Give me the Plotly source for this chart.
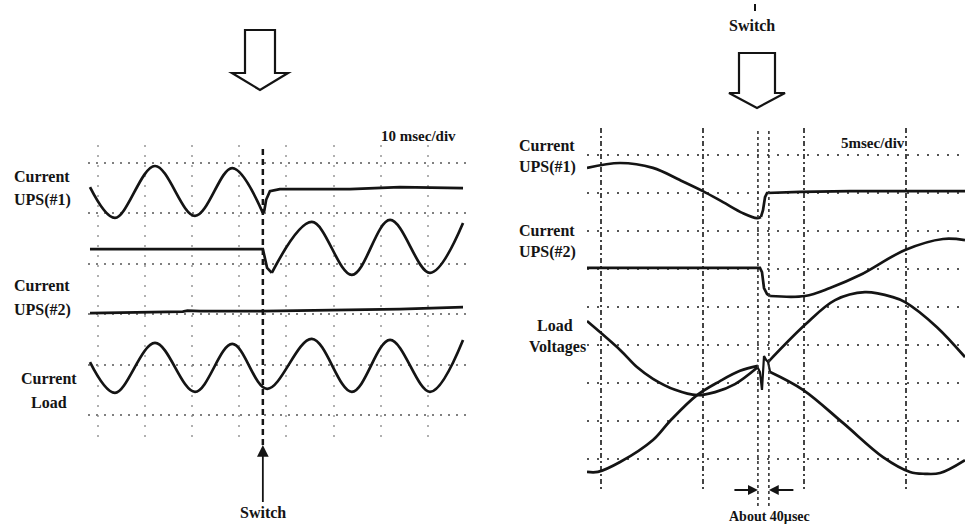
import plotly.graph_objects as go

W, H = 965, 527

# ---------------- data: left record (10 msec/div), time in ms, amplitude in divisions ----------------
L_SWITCH_T = 35.0
l_ups1_pre_t = [-1.7, 3.6, 12.1, 20.6, 28.5, 35.0]
l_ups1_pre_v = [4.52, 3.91, 4.94, 3.95, 4.90, 4.01]
l_ups1_post_t = [35.0, 35.3, 35.7, 36.5, 38.6, 53.5, 64.1, 77.5]
l_ups1_post_v = [4.01, 4.05, 4.27, 4.44, 4.48, 4.48, 4.52, 4.50]
l_ups2_pre_t = [-1.7, 35.0, 35.3, 35.9, 36.9]
l_ups2_pre_v = [3.29, 3.29, 3.17, 2.92, 2.82]
l_ups2_post_t = [36.9, 45.4, 53.9, 62.0, 70.5, 77.5]
l_ups2_post_v = [2.82, 3.83, 2.78, 3.87, 2.82, 3.81]
l_ref_t = [-1.7, 11.0, 18.0, 19.0, 21.7, 35.0, 49.3, 64.1, 77.5]
l_ref_v = [2.02, 2.04, 2.05, 2.07, 2.06, 2.06, 2.08, 2.10, 2.14]
l_load_t = [-1.7, 3.6, 12.1, 20.6, 28.5, 35.9, 45.4, 53.9, 62.0, 70.5, 77.5]
l_load_v = [1.05, 0.44, 1.43, 0.46, 1.41, 0.52, 1.51, 0.46, 1.49, 0.46, 1.49]
l_grid_t = [0, 10, 20, 30, 40, 50, 60, 70]
l_grid_v = [0, 1, 2, 3, 4, 5]

# ---------------- data: right record (5 msec/div) ----------------
R_MARK_T = [7.73, 8.27]
r_ups1_pre_t = [-0.69, 0.94, 2.56, 3.89, 5.02, 6.01, 6.99, 7.68, 7.88]
r_ups1_pre_v = [7.66, 7.79, 7.66, 7.34, 7.05, 6.76, 6.47, 6.34, 6.37]
r_ups1_post_t = [7.88, 7.98, 8.08, 8.18, 9.80, 12.27, 14.73, 17.93]
r_ups1_post_v = [6.37, 6.55, 6.89, 7.00, 7.03, 7.05, 7.05, 7.05]
r_ups2_pre_t = [-0.69, 7.83, 7.93, 8.03, 8.18, 8.33]
r_ups2_pre_v = [5.03, 5.03, 4.92, 4.50, 4.34, 4.29]
r_ups2_post_t = [8.33, 10.05, 11.28, 12.76, 14.98, 16.85, 17.93]
r_ups2_post_v = [4.29, 4.29, 4.50, 4.84, 5.50, 5.79, 5.76]
r_va_pre_t = [-0.69, 0.94, 1.77, 2.56, 3.65, 4.73, 5.62, 6.60, 7.73]
r_va_pre_v = [3.63, 2.87, 2.42, 2.11, 1.82, 1.68, 1.76, 1.97, 2.42]
r_va_post_t = [8.23, 10.05, 11.53, 13.00, 14.38, 14.98, 16.55, 17.93]
r_va_post_v = [2.55, 3.53, 4.18, 4.39, 4.26, 4.13, 3.47, 2.68]
r_vb_pre_t = [-0.69, -0.15, 0.94, 2.56, 3.40, 4.73, 5.86, 6.85, 7.73]
r_vb_pre_v = [-0.34, -0.34, -0.08, 0.50, 1.00, 1.68, 2.05, 2.32, 2.45]
r_vb_post_t = [8.33, 9.95, 11.92, 13.89, 15.22, 15.96, 16.70, 17.93]
r_vb_post_v = [2.29, 1.82, 0.95, 0.05, -0.34, -0.39, -0.37, -0.03]
r_spike_t = [7.68, 7.83, 7.93, 7.98, 8.03, 8.13, 8.23, 8.33]
r_spike_v = [2.45, 2.29, 1.82, 2.29, 2.71, 2.61, 2.55, 2.29]
r_grid_t = [0, 5, 10, 15]
r_grid_v = [0, 1, 2, 3, 4, 5, 6, 7, 8]

# ---------------- layout helpers (pixel -> paper) ----------------
def px(x):
    return x / W

def py(y):
    return 1 - y / H

# left scale: t=0 at x=98px, 4.71 px/ms ; v=0 at y=415px, 50.4 px/div
L_DOM = (88, 468, 145, 440)
L_XR = [(L_DOM[0] - 98) / 4.71, (L_DOM[1] - 98) / 4.71]
L_YR = [(415 - L_DOM[3]) / 50.4, (415 - L_DOM[2]) / 50.4]
# right scale: t=0 at x=601px, 20.3 px/ms ; v=0 at y=459px, 38 px/div
R_DOM = (587, 965, 128, 490)
R_XR = [(R_DOM[0] - 601) / 20.3, (R_DOM[1] - 601) / 20.3]
R_YR = [(459 - R_DOM[3]) / 38.0, (459 - R_DOM[2]) / 38.0]

INK = "#141414"
FONT = "Liberation Serif"

fig = go.Figure()

def add(t, v, ax, spline=True, width=2.7):
    fig.add_trace(go.Scatter(
        x=t, y=v, mode="lines", xaxis="x" if ax == 1 else "x2", yaxis="y" if ax == 1 else "y2",
        line=dict(color=INK, width=width, shape="spline" if spline else "linear", smoothing=1.0),
        hoverinfo="skip", showlegend=False))

add(l_ups1_pre_t, l_ups1_pre_v, 1)
add(l_ups1_post_t, l_ups1_post_v, 1, spline=False)
add(l_ups2_pre_t, l_ups2_pre_v, 1, spline=False)
add(l_ups2_post_t, l_ups2_post_v, 1)
add(l_ref_t, l_ref_v, 1, spline=False)
add(l_load_t, l_load_v, 1)

add(r_ups1_pre_t, r_ups1_pre_v, 2)
add(r_ups1_post_t, r_ups1_post_v, 2, spline=False)
add(r_ups2_pre_t, r_ups2_pre_v, 2, spline=False)
add(r_ups2_post_t, r_ups2_post_v, 2)
add(r_va_pre_t, r_va_pre_v, 2)
add(r_va_post_t, r_va_post_v, 2)
add(r_vb_pre_t, r_vb_pre_v, 2)
add(r_vb_post_t, r_vb_post_v, 2)
add(r_spike_t, r_spike_v, 2, spline=False, width=2.2)

axcommon = dict(showticklabels=False, zeroline=False, showline=False, ticks="", fixedrange=True)
fig.update_layout(
    width=W, height=H, margin=dict(l=0, r=0, t=0, b=0),
    paper_bgcolor="white", plot_bgcolor="rgba(0,0,0,0)", showlegend=False,
    xaxis=dict(domain=[px(L_DOM[0]), px(L_DOM[1])], range=L_XR, tickvals=l_grid_t,
               showgrid=True, gridcolor="#b0b0b0", gridwidth=1.5, griddash="2px,8px", **axcommon),
    yaxis=dict(domain=[py(L_DOM[3]), py(L_DOM[2])], range=L_YR, tickvals=l_grid_v,
               showgrid=True, gridcolor="#808080", gridwidth=1.8, griddash="2px,6px", **axcommon),
    xaxis2=dict(domain=[px(R_DOM[0]), px(R_DOM[1])], range=R_XR, tickvals=r_grid_t, anchor="y2",
                showgrid=True, gridcolor="#444444", gridwidth=1.8, griddash="5px,3px,2px,3px", **axcommon),
    yaxis2=dict(domain=[py(R_DOM[3]), py(R_DOM[2])], range=R_YR, tickvals=r_grid_v, anchor="x2",
                showgrid=True, gridcolor="#555555", gridwidth=2.2, griddash="2px,8px", **axcommon),
)

shapes = []
# left switch line
shapes.append(dict(type="line", xref="x", yref="paper", x0=L_SWITCH_T, x1=L_SWITCH_T,
                   y0=py(445), y1=py(148), line=dict(color=INK, width=2.5, dash="6px,4px")))
# right 40 usec marker lines
for tm in R_MARK_T:
    shapes.append(dict(type="line", xref="x2", yref="paper", x0=tm, x1=tm,
                       y0=py(506), y1=py(128), line=dict(color="#333333", width=1.6, dash="3px,3px")))

def hollow_arrow(cx, top, stem_half, base, head_half, tip):
    pts = [(cx - stem_half, top), (cx + stem_half, top), (cx + stem_half, base), (cx + head_half, base),
           (cx, tip), (cx - head_half, base), (cx - stem_half, base)]
    d = "M " + " L ".join(f"{px(x):.5f},{py(y):.5f}" for x, y in pts) + " Z"
    return dict(type="path", xref="paper", yref="paper", path=d,
                line=dict(color=INK, width=2.2), fillcolor="white")

shapes.append(hollow_arrow(260, 30, 15, 73, 28, 90))
shapes.append(hollow_arrow(757, 53, 18, 93, 28, 108))
# small remnant tick above the right "Switch"
shapes.append(dict(type="line", xref="paper", yref="paper", x0=px(755), x1=px(755), y0=py(11), y1=py(4),
                   line=dict(color=INK, width=2)))
fig.update_layout(shapes=shapes)

ann = []
def label(text, x, y, size=16, anchor="left"):
    ann.append(dict(text=f"<b>{text}</b>", x=px(x), y=py(y), xref="paper", yref="paper", showarrow=False,
                    xanchor=anchor, yanchor="middle", font=dict(family=FONT, size=size, color=INK)))

label("Current", 12, 176)
label("UPS(#1)", 12, 200)
label("Current", 12, 285)
label("UPS(#2)", 12, 310)
label("Current", 49, 378, anchor="center")
label("Load", 49, 402, anchor="center")
label("10 msec/div", 418, 136, size=15, anchor="center")

label("Current", 517, 145)
label("UPS(#1)", 517, 167)
label("Current", 517, 230)
label("UPS(#2)", 517, 252)
label("Load", 555, 325, anchor="center")
label("Voltages", 557, 347, anchor="center")
label("5msec/div", 873, 143, size=15, anchor="center")
label("Switch", 752, 25, size=16, anchor="center")
label("About 40µsec", 769, 516, size=14, anchor="center")

# "Switch" with upward arrow (left record)
ann.append(dict(text="<b>Switch</b>", x=L_SWITCH_T, y=py(445), xref="x", yref="paper",
                showarrow=True, arrowhead=2, arrowsize=1.3, arrowwidth=1.8, arrowcolor=INK,
                ax=0, ay=67, font=dict(family=FONT, size=16, color=INK)))
# 40 usec arrows
ann.append(dict(text="", x=R_MARK_T[0], y=py(490), xref="x2", yref="paper", showarrow=True,
                arrowhead=2, arrowsize=1.1, arrowwidth=1.8, arrowcolor=INK, ax=-25, ay=0))
ann.append(dict(text="", x=R_MARK_T[1], y=py(490), xref="x2", yref="paper", showarrow=True,
                arrowhead=2, arrowsize=1.1, arrowwidth=1.8, arrowcolor=INK, ax=26, ay=0))
fig.update_layout(annotations=ann)

fig.write_html("out.html", config={"displayModeBar": False},
               post_script="document.body.style.margin='0';document.body.style.overflow='hidden';")
